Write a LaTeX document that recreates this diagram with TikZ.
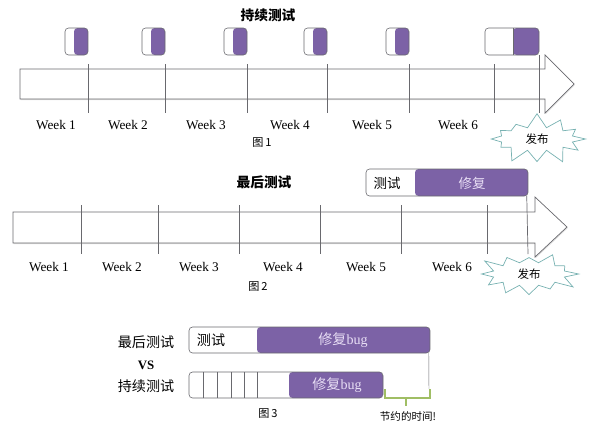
\documentclass[tikz,border=0pt]{standalone}
\usepackage{fontspec}
\setmainfont{Liberation Serif}
\newfontfamily\cjk{Noto Sans CJK SC}
\usetikzlibrary{shapes.symbols,calc,shadows}
\definecolor{fixc}{RGB}{124,98,166}
\definecolor{linec}{RGB}{105,105,110}
\definecolor{burstc}{RGB}{120,178,178}
\definecolor{savec}{RGB}{160,190,100}
\definecolor{fixtext}{RGB}{232,222,245}
\def\px{0.03cm}

\begin{document}
\begin{tikzpicture}[x=0.03cm, y=-0.03cm,
  every node/.style={inner sep=0pt},
  tbox/.style={fill=white, rounded corners=3pt, minimum height=#1*\px, postaction={draw=linec, line width=0.5pt}},
  fixpart/.style={path picture={\fill[fixc] ($(path picture bounding box.north east)+(-#1,0)$) rectangle (path picture bounding box.south east);}},
  weekl/.style={font=\fontsize{11.3}{12}\selectfont},
  figl/.style={font=\cjk\fontsize{9.5}{10}\selectfont},
  titlel/.style={font=\cjk\bfseries\fontsize{11.7}{12}\selectfont},
  burst/.style={starburst, draw=burstc, fill=white, line width=0.6pt, starburst points=12,
    starburst point height=0.45cm, random starburst=#1, minimum width=3.1cm, minimum height=1.6cm,
    font=\cjk\fontsize{9.8}{10}\selectfont},
  timeline/.style={draw=linec, fill=white, line width=0.6pt, drop shadow={shadow xshift=0.6pt, shadow yshift=-1pt, opacity=0.25}},
  tick/.style={draw=linec, line width=0.6pt}]
\useasboundingbox (0,0) rectangle (600,436);

% Figure 1: continuous testing
\node[titlel] (title1) at (268,15) {持续测试};
\path[timeline] (20,69) -- (545,69) -- (545,55) -- (574,84) -- (545,113) -- (545,99) -- (20,99) -- cycle;
\foreach \x in {88,165,247,327,409,494}
  \draw[tick] (\x,64) -- (\x,113);
\draw[tick] (539,55) -- (539,113);
\foreach \x [count=\i] in {88,165,247,327,409}
  \node[tbox=27, minimum width=23*\px, fixpart=14] (small\i) at (\x-11.5,41.5) {};
\node[tbox=27, minimum width=54*\px, fixpart=26] (last1) at (512,41.5) {};
\draw[linec, line width=0.4pt] (513,28) -- (513,55);
\foreach \x [count=\i] in {56,128,206,290,372,458}
  \node[weekl] (wa\i) at (\x,125) {Week \i};
\node[figl] (fig1) at (262,143) {图\,1};
\node[burst=7] (rel1) at (537,139) {发布};

% Figure 2: testing at the end
\node[titlel] (title2) at (264,182) {最后测试};
\path[timeline] (13,212) -- (535,212) -- (535,197) -- (567,227) -- (535,257) -- (535,243) -- (13,243) -- cycle;
\node[tbox=27, minimum width=162*\px, fixpart=113] (late) at (447,182.5) {};
\node[font=\cjk\fontsize{11.5}{12}\selectfont] (late test) at (387,183) {测试};
\node[font=\cjk\fontsize{11.5}{12}\selectfont, text=fixtext] (late fix) at (472,183) {修复};
\foreach \x in {81,158,239,320,401,487}
  \draw[tick] (\x,205) -- (\x,254);
\draw[tick] (late.south east) ++(-1.5,0) -- (528,254);
\foreach \x [count=\i] in {49,122,199,283,366,452}
  \node[weekl] (wb\i) at (\x,267) {Week \i};
\node[figl] (fig2) at (258,287) {图\,2};
\node[burst=3] (rel2) at (529,274) {发布};

% Figure 3: comparison
\node[font=\cjk\fontsize{12}{13}\selectfont] (lbl late) at (146,342) {最后测试};
\node[font=\bfseries\fontsize{11}{12}\selectfont] (vs) at (146,365) {VS};
\node[font=\cjk\fontsize{12}{13}\selectfont] (lbl cont) at (146,386) {持续测试};
\node[tbox=26, minimum width=241*\px, fixpart=173] (bar late) at (309.5,340) {};
\node[font=\cjk\fontsize{12}{13}\selectfont] (bl test) at (211,340) {测试};
\node[font=\fontsize{12}{13}\selectfont, text=fixtext] (bl fix) at (343,340) {{\cjk 修复}bug};
\node[tbox=26, minimum width=194*\px, fixpart=94] (bar cont) at (286,385) {};
\foreach \x in {203,217,231,244,257}
  \draw[linec, line width=0.4pt] (\x,372) -- (\x,398);
\node[font=\fontsize{12}{13}\selectfont, text=fixtext] (bc fix) at (337,385) {{\cjk 修复}bug};
\coordinate (save top) at (429,389);
\draw[linec, line width=0.4pt] ([xshift=-1.5*\px]bar late.south east) -- (save top);
\draw[savec, line width=1.6pt] (385,389) -- (385,398) -- (430,398) -- (430,389);
\draw[savec, line width=1.6pt] (406,398) -- (406,406);
\node[figl] (fig3) at (268,414) {图\,3};
\node[font=\cjk\fontsize{9}{10}\selectfont] (saved) at (408,416) {节约的时间!};
\end{tikzpicture}
\end{document}
